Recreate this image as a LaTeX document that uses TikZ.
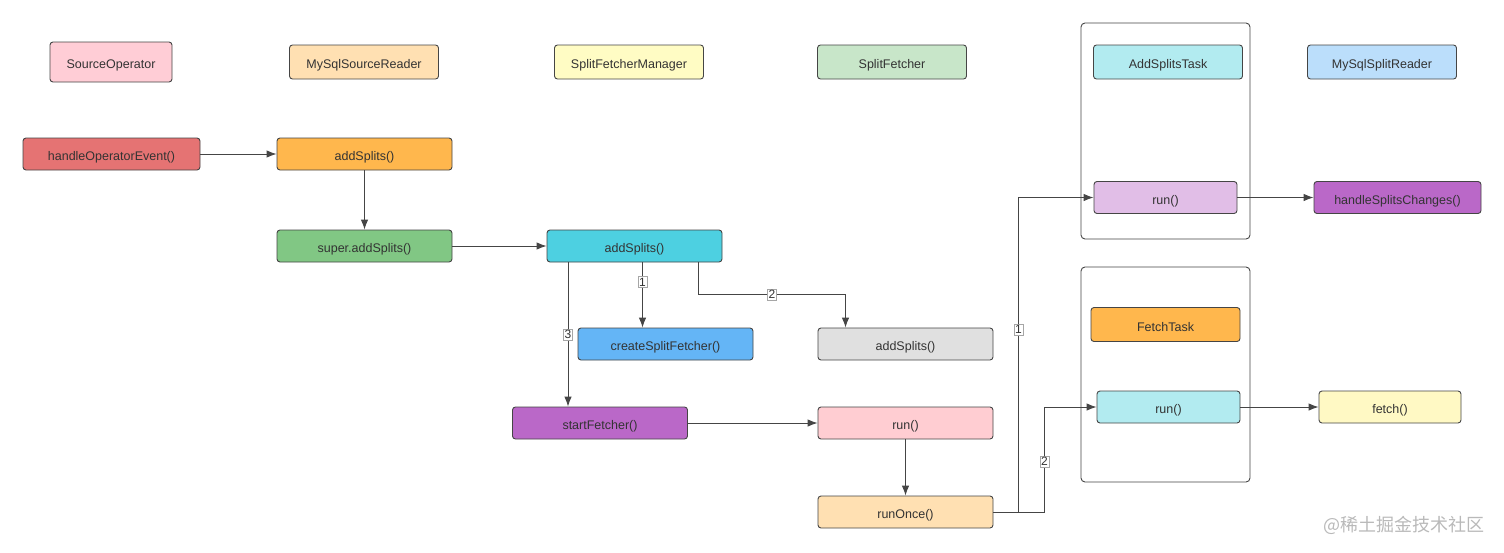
\documentclass[tikz,border=0pt]{standalone}
\usepackage{fontspec}
\setmainfont{Liberation Sans}
\newfontfamily\cjk{Noto Sans CJK SC}
\usetikzlibrary{arrows.meta}

\definecolor{edge}{HTML}{454545}
\definecolor{ink}{HTML}{333333}
\definecolor{cPink}{HTML}{FFCDD6}
\definecolor{cPeach}{HTML}{FFE0B2}
\definecolor{cLemon}{HTML}{FFFCC4}
\definecolor{cMint}{HTML}{C8E6C9}
\definecolor{cAqua}{HTML}{B2EBF0}
\definecolor{cSky}{HTML}{BBDEFB}
\definecolor{cRed}{HTML}{E57373}
\definecolor{cOrange}{HTML}{FFB74D}
\definecolor{cGreen}{HTML}{81C784}
\definecolor{cCyan}{HTML}{4DD0E1}
\definecolor{cBlue}{HTML}{64B5F6}
\definecolor{cGrey}{HTML}{E0E0E0}
\definecolor{cPurple}{HTML}{BA68C8}
\definecolor{cRose}{HTML}{FFCDD2}
\definecolor{cLilac}{HTML}{E1BEE7}
\definecolor{cCream}{HTML}{FFF9C4}

\tikzset{
  box/.style={draw=edge, rounded corners=3pt, text=ink, line width=0.9pt,
    minimum width=149pt, minimum height=34pt, inner sep=0pt,
    text height=13pt, text depth=0pt,
    font=\fontsize{12.5}{14}\selectfont},
  call/.style={box, minimum width=175pt, minimum height=32pt},
  frame/.style={draw=edge, rounded corners=4pt, line width=0.9pt,
    minimum width=169pt, inner sep=0pt},
  arr/.style={draw=edge, line width=0.9pt, -{Latex[length=10pt,width=7.5pt]}},
  lbl/.style={fill=white, draw=gray!70, line width=0.5pt, inner sep=1.2pt,
    text=ink, font=\fontsize{12}{13}\selectfont}
}

\begin{document}
\begin{tikzpicture}[x=1pt, y=-1pt]
\useasboundingbox (0,0) rectangle (1504,552);
% task frames
\node[frame, minimum height=216pt] (ast-box) at (1165.5,131) {};
\node[frame, minimum height=215pt] (fst-box) at (1165.5,374.5) {};
% class headers
\node[box, fill=cPink, minimum width=122pt, minimum height=40pt] (so) at (111,62) {SourceOperator};
\node[box, fill=cPeach] (msr) at (364,62) {MySqlSourceReader};
\node[box, fill=cLemon] (sfm) at (629,62) {SplitFetcherManager};
\node[box, fill=cMint] (sf) at (892,62) {SplitFetcher};
\node[box, fill=cAqua] (ast) at (1168,62) {AddSplitsTask};
\node[box, fill=cSky] (mspr) at (1382,62) {MySqlSplitReader};
\node[box, fill=cOrange, minimum width=149pt] (fst) at (1165.5,324.5) {FetchTask};
% method calls
\node[call, fill=cRed, minimum width=177pt] (so-event) at (111.5,154) {handleOperatorEvent()};
\node[call, fill=cOrange] (msr-add) at (364.5,154) {addSplits()};
\node[call, fill=cGreen] (msr-super) at (364.5,246) {super.addSplits()};
\node[call, fill=cCyan] (fm-add) at (634.5,246) {addSplits()};
\node[call, fill=cBlue] (csf) at (665.5,344) {createSplitFetcher()};
\node[call, fill=cGrey] (sf-add) at (905.5,344) {addSplits()};
\node[call, fill=cPurple] (start) at (600,423) {startFetcher()};
\node[call, fill=cRose] (sf-run) at (905.5,423) {run()};
\node[call, fill=cPeach] (ro) at (905.5,512) {runOnce()};
\node[call, fill=cLilac, minimum width=143pt] (ast-run) at (1165.5,197.5) {run()};
\node[call, fill=cPurple, minimum width=167pt] (hsc) at (1397.5,197.5) {handleSplitsChanges()};
\node[call, fill=cAqua, minimum width=143pt] (fst-run) at (1168.5,407) {run()};
\node[call, fill=cCream, minimum width=142pt] (fetch) at (1390,407) {fetch()};
% connectors
\coordinate (c1) at ([xshift=-23pt]csf.north);
\coordinate (c3) at ([xshift=-32pt]start.north);
\draw[arr] (so-event) -- (msr-add);
\draw[arr] (msr-add) -- (msr-super);
\draw[arr] (msr-super) -- (fm-add);
\draw[arr] (fm-add.south -| c1) -- node[lbl, pos=0.3] {1} (c1);
\draw[arr] ([xshift=-24pt]fm-add.south east) -- ++(0,32) -| node[lbl, pos=0.25] {2} ([xshift=-60pt]sf-add.north);
\draw[arr] (fm-add.south -| c3) -- node[lbl, pos=0.5] {3} (c3);
\draw[arr] (start) -- (sf-run);
\draw[arr] (sf-run) -- (ro);
\draw[arr] (ro.east) -| node[lbl, pos=0.79] {1} ([xshift=-75pt]ast-run.west) -- (ast-run.west);
\draw[arr] (ro.east) -| node[lbl, pos=0.74] {2} ([xshift=-52pt]fst-run.west) -- (fst-run.west);
\draw[arr] (ast-run) -- (hsc);
\draw[arr] (fst-run) -- (fetch);
% watermark
\node[text=gray!55, font=\cjk\fontsize{18}{20}\selectfont, anchor=east] (mark) at (1488,525) {@稀土掘金技术社区};
\end{tikzpicture}
\end{document}
